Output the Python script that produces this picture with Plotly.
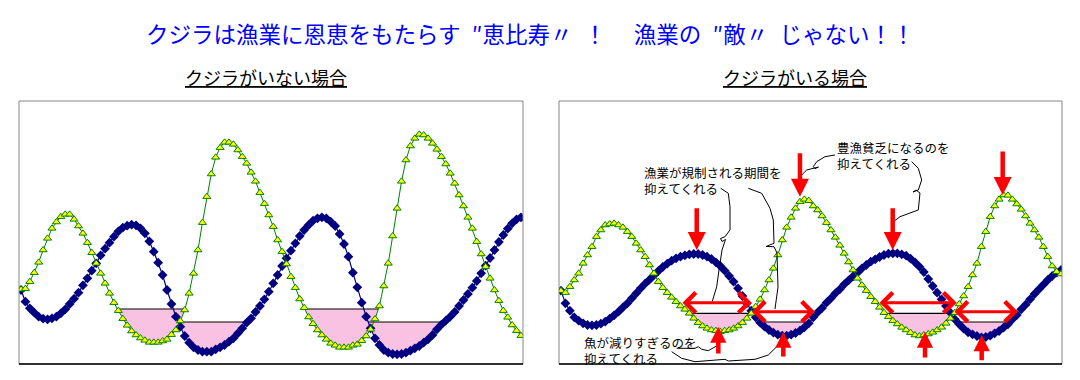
import numpy as np
import plotly.graph_objects as go

W, H = 1080, 380
FONT = "Noto Sans CJK JP"

# ---------------- data ----------------
index = list(range(114))

left_triangle = [
    224, 226, 247, 274, 305, 342, 377, 407, 426, 442,
    449, 449, 434, 414, 392, 364, 334, 302, 272, 242,
    212, 184, 160, 136, 116, 99, 87, 78, 71, 65,
    65, 65, 69, 74, 88, 102, 129, 162, 212, 272,
    342, 424, 502, 570, 620, 649, 665, 665, 659, 642,
    622, 602, 575, 548, 514, 481, 447, 412, 372, 337,
    300, 262, 229, 195, 169, 141, 121, 102, 87, 74,
    62, 56, 50, 50, 50, 56, 59, 70, 84, 104,
    135, 174, 234, 302, 384, 467, 548, 612, 654, 677,
    689, 687, 677, 662, 644, 622, 600, 572, 542, 507,
    474, 440, 407, 367, 330, 292, 257, 222, 190, 160,
    140, 117, 100, 85]

left_diamond = [
    222, 187, 167, 154, 142, 136, 134, 137, 142, 152,
    164, 180, 196, 214, 236, 257, 280, 302, 326, 346,
    364, 382, 398, 409, 415, 418, 416, 407, 392, 368,
    337, 304, 267, 222, 180, 142, 112, 84, 64, 50,
    42, 37, 37, 37, 44, 50, 57, 67, 77, 92,
    107, 124, 137, 156, 174, 194, 217, 242, 267, 294,
    317, 340, 362, 384, 402, 417, 430, 437, 440, 437,
    427, 414, 390, 360, 322, 274, 230, 184, 142, 107,
    77, 57, 42, 34, 30, 29, 30, 34, 40, 47,
    54, 64, 74, 87, 104, 118, 130, 142, 156, 174,
    192, 210, 229, 249, 272, 295, 318, 342, 366, 387,
    406, 422, 434, 440]

right_triangle = [
    220, 214, 232, 252, 272, 302, 327, 352, 382, 402,
    417, 420, 422, 417, 410, 397, 382, 362, 342, 322,
    297, 272, 247, 229, 214, 200, 187, 174, 164, 152,
    137, 124, 114, 107, 102, 100, 97, 100, 102, 107,
    114, 124, 137, 152, 172, 194, 222, 252, 287, 327,
    372, 410, 440, 467, 487, 494, 490, 474, 462, 444,
    424, 402, 380, 356, 332, 306, 282, 257, 237, 220,
    202, 187, 170, 154, 142, 130, 120, 110, 102, 94,
    87, 84, 87, 90, 95, 102, 110, 122, 137, 154,
    180, 204, 232, 267, 302, 352, 397, 442, 474, 494,
    507, 506, 494, 480, 464, 444, 422, 402, 380, 352,
    322, 294, 277, 270]

right_diamond = [
    220, 182, 160, 140, 130, 122, 117, 116, 117, 121,
    127, 136, 146, 157, 170, 182, 197, 212, 227, 241,
    253, 266, 279, 291, 301, 310, 317, 322, 326, 329,
    330, 330, 327, 322, 315, 305, 294, 280, 264, 247,
    227, 204, 182, 160, 140, 124, 112, 102, 94, 88,
    85, 85, 88, 93, 100, 110, 122, 140, 155, 168,
    184, 197, 212, 224, 239, 251, 263, 274, 287, 297,
    307, 314, 321, 327, 331, 332, 332, 329, 325, 316,
    305, 292, 276, 255, 234, 214, 194, 174, 154, 134,
    119, 106, 95, 89, 84, 80, 81, 85, 92, 99,
    109, 119, 134, 147, 164, 178, 194, 210, 224, 238,
    252, 264, 274, 282]

# shading levels and the index windows that are shaded
left_triangle_level, left_diamond_level = 165, 126
right_triangle_level, right_diamond_level = 152, 126
left_triangle_windows = [(15, 45), (60, 85)]
left_diamond_windows = [(30, 56), (72, 100)]
right_triangle_windows = [(25, 47), (68, 92)]
right_diamond_windows = [(40, 60), (85, 106)]

title_text = "クジラは漁業に恩恵をもたらす\u2002″恵比寿〃\u2002！　 漁業の\u2002″敵〃\u2002じゃない！！"
left_title = "クジラがいない場合"
right_title = "クジラがいる場合"
note_regulation = "漁業が規制される期間を<br>抑えてくれる"
note_glut = "豊漁貧乏になるのを<br>抑えてくれる"
note_overfish = "魚が減りすぎるのを<br>抑えてくれる"

# ---------------- helpers ----------------
def px(x):
    return x / W


def py(y):
    return 1 - y / H


def below_region(x, y, level, lo, hi):
    x = np.asarray(x, float)
    y = np.asarray(y, float)
    sel = [k for k in range(lo, hi + 1) if y[k] < level]
    i, j = sel[0], sel[-1]
    xs, ys = [], []
    t = (level - y[i - 1]) / (y[i] - y[i - 1])
    xs.append(x[i - 1] + t * (x[i] - x[i - 1]))
    ys.append(level)
    xs += list(x[i:j + 1])
    ys += list(y[i:j + 1])
    t = (level - y[j]) / (y[j + 1] - y[j])
    xs.append(x[j] + t * (x[j + 1] - x[j]))
    ys.append(level)
    return xs, ys


fig = go.Figure()

PINK = "#f9c2e2"


def add_panel(tri, dia, tri_level, dia_level, tri_windows, dia_windows, xa, ya):
    for series, level, windows in ((tri, tri_level, tri_windows), (dia, dia_level, dia_windows)):
        for lo, hi in windows:
            xs, ys = below_region(index, series, level, lo, hi)
            fig.add_trace(go.Scatter(
                x=xs + [xs[0]], y=ys + [ys[0]], mode="lines", fill="toself",
                fillcolor=PINK, line=dict(width=0), hoverinfo="skip",
                xaxis=xa, yaxis=ya))
            fig.add_trace(go.Scatter(
                x=[xs[0], xs[-1]], y=[level, level], mode="lines",
                line=dict(color="black", width=1.2), hoverinfo="skip",
                xaxis=xa, yaxis=ya))
    fig.add_trace(go.Scatter(
        x=index, y=dia, mode="lines+markers",
        line=dict(color="#000080", width=1.2),
        marker=dict(symbol="diamond", size=7.5, color="#000080", line=dict(width=0)),
        xaxis=xa, yaxis=ya))
    fig.add_trace(go.Scatter(
        x=index, y=tri, mode="lines+markers",
        line=dict(color="#008000", width=1),
        marker=dict(symbol="triangle-up", size=7, color="#ffff00",
                    line=dict(color="#008000", width=1)),
        xaxis=xa, yaxis=ya))


add_panel(left_triangle, left_diamond, left_triangle_level, left_diamond_level,
          left_triangle_windows, left_diamond_windows, "x", "y")
add_panel(right_triangle, right_diamond, right_triangle_level, right_diamond_level,
          right_triangle_windows, right_diamond_windows, "x2", "y2")

ydom = [1 - 364 / H, 1 - 101 / H]
axis_common = dict(showgrid=False, zeroline=False, showticklabels=False, ticks="")
fig.update_layout(
    width=W, height=H, margin=dict(l=0, r=0, t=0, b=0),
    paper_bgcolor="white", plot_bgcolor="white", showlegend=False,
    xaxis=dict(domain=[19 / W, 523 / W], range=[-0.452, 113.45], **axis_common),
    yaxis=dict(domain=ydom, range=[0, 789], **axis_common),
    xaxis2=dict(domain=[559 / W, 1062 / W], range=[-0.452, 113.22], anchor="y2", **axis_common),
    yaxis2=dict(domain=ydom, range=[0, 789], anchor="x2", **axis_common),
    font=dict(family=FONT),
)

shapes = []
for xa, ya in (("x", "y"), ("x2", "y2")):
    shapes.append(dict(type="rect", xref=f"{xa} domain", yref=f"{ya} domain",
                       x0=0, x1=1, y0=0, y1=1, line=dict(color="#868686", width=1),
                       layer="above"))
    shapes.append(dict(type="line", xref=f"{xa} domain", yref=f"{ya} domain",
                       x0=0, x1=1, y0=0, y1=0, line=dict(color="black", width=1.5),
                       layer="above"))

# hand-drawn connector lines (pixel coordinates of the picture)
connectors = [
    [(720.7, 188.3), (728.3, 193.3), (730, 206.7), (730, 230), (725, 236.7), (720.5, 238.5),
     (722, 241.5), (725.5, 239.5), (722, 250), (719, 270), (716.7, 286.7), (711.7, 303.3)],
    [(748.3, 188.3), (761.7, 193.3), (770, 208.3), (773.3, 220), (774, 243.3), (766, 246.5),
     (774, 246.7), (777, 253), (778, 287), (775, 309)],
    [(911.7, 161.7), (918.3, 168.3), (921.7, 180), (918.3, 190), (913, 192), (916, 190),
     (920, 193), (918.3, 210), (900, 216.7), (893, 222)],
    [(835, 155), (825, 156.7), (816.7, 161.7), (813.3, 166.7), (815, 168.7), (818.5, 167),
     (806.7, 170), (803.3, 173.3), (801, 176)],
    [(676.7, 348.3), (695, 348.3), (698.3, 346.7), (701.7, 349.3), (708.3, 350.7), (718.3, 345)],
    [(671.7, 351.7), (681.7, 358.3), (695, 361.7), (725, 359.3), (728.3, 361), (755, 359.3),
     (768.3, 355), (781.7, 341.7)],
]
for pts in connectors:
    path = "M " + " L ".join(f"{px(a):.5f},{py(b):.5f}" for a, b in pts)
    shapes.append(dict(type="path", xref="paper", yref="paper", path=path,
                       line=dict(color="black", width=1)))
fig.update_layout(shapes=shapes)

ann = []
ann.append(dict(text=title_text, x=px(530), y=py(33), xref="paper", yref="paper",
                showarrow=False, xanchor="center", yanchor="middle",
                font=dict(family=FONT, size=22.5, color="#0000ff")))
ann.append(dict(text=left_title, x=px(266), y=py(77), xref="paper", yref="paper",
                showarrow=False, xanchor="center", yanchor="middle",
                font=dict(family=FONT, size=18, color="black", lineposition="under")))
ann.append(dict(text=right_title, x=px(795), y=py(77), xref="paper", yref="paper",
                showarrow=False, xanchor="center", yanchor="middle",
                font=dict(family=FONT, size=18, color="black", lineposition="under")))
for txt, x0, y0 in ((note_regulation, 642, 161), (note_glut, 835, 136), (note_overfish, 582, 331)):
    ann.append(dict(text=txt, x=px(x0), y=py(y0), xref="paper", yref="paper",
                    showarrow=False, xanchor="left", yanchor="top", align="left",
                    font=dict(family=FONT, size=12.5, color="black")))

# red arrows on the right panel (data coordinates)
down_arrows = [(30.67, 342, 472), (54.0, 502, 637), (74.96, 342, 472), (99.82, 507, 642)]
up_arrows = [(35.55, 112, 27), (50.24, 97, 18), (82.26, 97, 15), (95.07, 87, 7)]
span_arrows = [(27.12, 43.1, 184), (42.8, 57.4, 157), (71.64, 89.42, 184), (88.59, 103.28, 157)]
for xi, tip, tail in down_arrows:
    ann.append(dict(text="", x=xi, y=tip, ax=xi, ay=tail, xref="x2", yref="y2",
                    axref="x2", ayref="y2", showarrow=True, arrowhead=2,
                    arrowsize=0.8, arrowwidth=4.5, arrowcolor="#ff0000"))
for xi, tip, tail in up_arrows:
    ann.append(dict(text="", x=xi, y=tip, ax=xi, ay=tail, xref="x2", yref="y2",
                    axref="x2", ayref="y2", showarrow=True, arrowhead=2,
                    arrowsize=0.72, arrowwidth=4.5, arrowcolor="#ff0000"))
for x0, x1, yv in span_arrows:
    ann.append(dict(text="", x=x1, y=yv, ax=x0, ay=yv, xref="x2", yref="y2",
                    axref="x2", ayref="y2", showarrow=True, arrowhead=4, startarrowhead=4,
                    arrowside="end+start", arrowsize=1.3, startarrowsize=1.3,
                    arrowwidth=3, arrowcolor="#ff0000"))
fig.update_layout(annotations=ann)

fig.write_html("out.html", config={"displayModeBar": False},
               post_script="document.body.style.margin='0px';document.body.style.overflow='hidden';")
